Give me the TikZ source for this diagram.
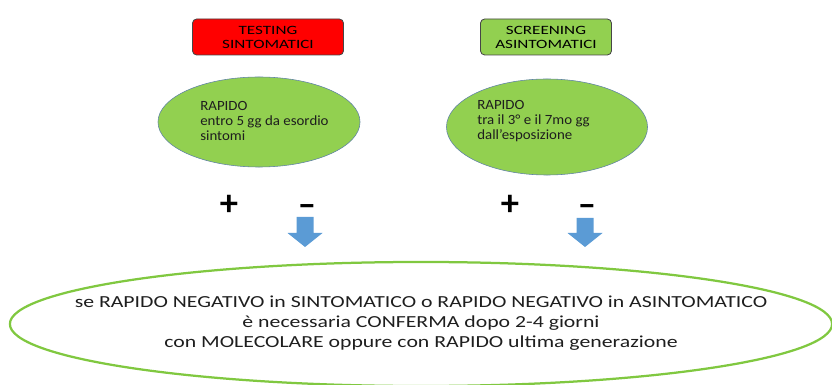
\documentclass[tikz,border=0pt]{standalone}
\usepackage{fontspec}
\setmainfont{Carlito}
\newfontfamily\boxfont{Carlito}[FakeStretch=1.35]
\newfontfamily\widefont{Carlito}[FakeStretch=1.29]
\newfontfamily\ellfont{Carlito}[FakeStretch=1.06]
\usetikzlibrary{positioning}
\usetikzlibrary{shapes.geometric}
\definecolor{boxred}{RGB}{255,0,0}
\definecolor{boxgreen}{RGB}{146,208,80}
\definecolor{linegreen}{RGB}{128,200,64}
\definecolor{arrowblue}{RGB}{91,155,213}
\definecolor{edgegray}{RGB}{70,70,70}
\definecolor{ellblue}{RGB}{95,130,165}
\definecolor{txtgray}{RGB}{30,30,30}

\begin{document}
\begin{tikzpicture}
  [x=0.025cm,y=-0.025cm,
   box/.style={rectangle,rounded corners=3pt,draw=edgegray,semithick,
               minimum height=0.9cm,align=center,inner sep=0,
               font=\boxfont\fontsize{9}{10}\selectfont},
   ell/.style={ellipse,draw=ellblue,fill=boxgreen,thin,inner sep=0},
   txt/.style={align=left,inner sep=0,text=txtgray,
               font=\ellfont\fontsize{10}{10.6}\selectfont},
   sign/.style={inner sep=0,font=\fontsize{26}{26}\selectfont\bfseries},
   down/.style={fill=arrowblue}]
  \useasboundingbox (0,0) rectangle (832,385);

  % top boxes
  \node[box,fill=boxred,minimum width=3.775cm] (t1) at (268,37)
    {TESTING\\SINTOMATICI};
  \node[box,fill=boxgreen,minimum width=3.275cm] (t2) at (546,37)
    {SCREENING\\ASINTOMATICI};

  % rapid tests
  \node[ell,minimum width=5.05cm,minimum height=2.25cm] (r1) at (259,122) {};
  \node[txt,anchor=west] (r1t) at (200,121)
    {RAPIDO\\entro 5 gg da esordio\\sintomi};
  \node[ell,minimum width=5.025cm,minimum height=2.4cm] (r2) at (547,127) {};
  \node[txt,anchor=west] (r2t) at (477,121)
    {RAPIDO\\tra il 3° e il 7mo gg\\dall’esposizione};

  % results
  \node[sign] (p1) at (229,205) {+};
  \node[sign] (m1) at (307,211) {–};
  \node[sign] (p2) at (510,205) {+};
  \node[sign] (m2) at (587,211) {–};
  \coordinate (a1) at (305,217);
  \coordinate (a2) at (585,218);
  \fill[down] (a1) ++(-8.5,0) -- ++(17,0) -- ++(0,16) -- ++(9,0)
    -- ++(-17.5,14) -- ++(-17.5,-14) -- ++(9,0) -- cycle;
  \fill[down] (a2) ++(-8.5,0) -- ++(17,0) -- ++(0,15) -- ++(9,0)
    -- ++(-17.5,14) -- ++(-17.5,-14) -- ++(9,0) -- cycle;

  % confirmation
  \node[ellipse,draw=linegreen,line width=1.6pt,minimum width=20.55cm,
        minimum height=3.1cm,inner sep=0] (c) at (421,324) {};
  \node[align=center,inner sep=0,text=txtgray,
        font=\widefont\fontsize{12}{14.2}\selectfont] (ct) at (421,323)
    {se RAPIDO NEGATIVO in SINTOMATICO o RAPIDO NEGATIVO in ASINTOMATICO\\
     è necessaria CONFERMA dopo 2-4 giorni\\
     con MOLECOLARE oppure con RAPIDO ultima generazione};
\end{tikzpicture}
\end{document}
